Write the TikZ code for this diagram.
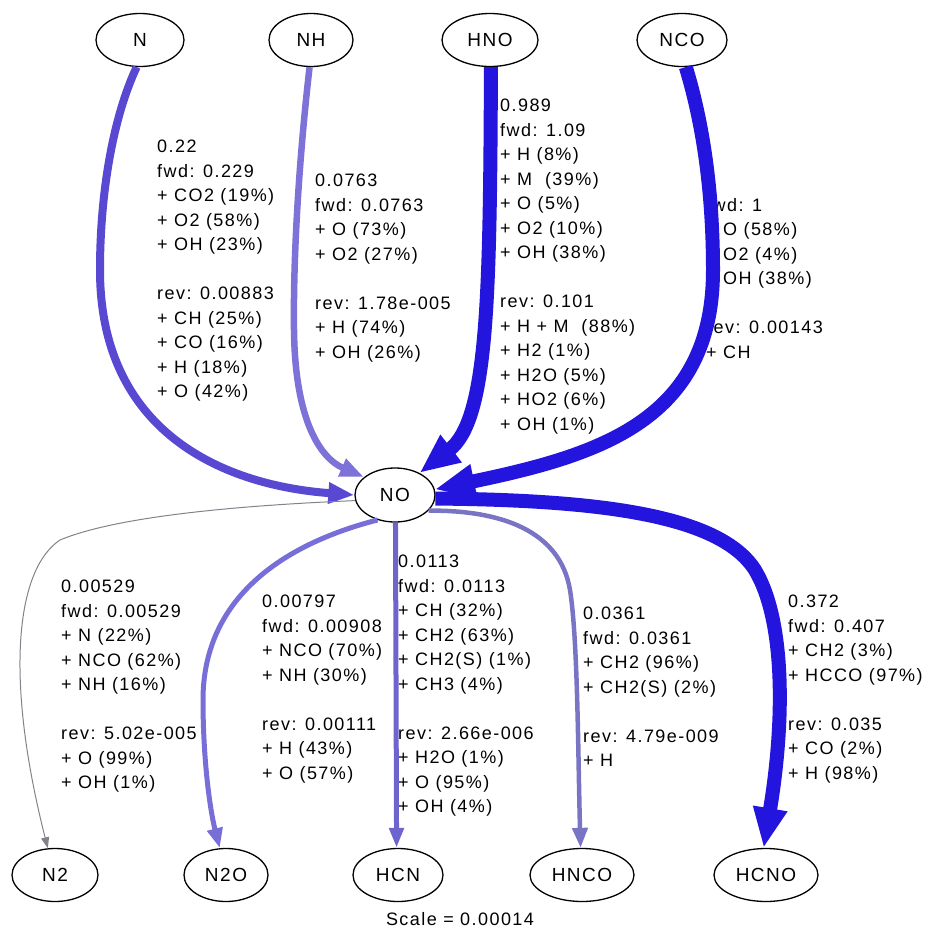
\documentclass[tikz,border=0pt]{standalone}
\usepackage{fontspec}
\setmainfont{Liberation Sans}[LetterSpace=8]
\usetikzlibrary{shapes.geometric,arrows.meta}

\definecolor{fluxA}{RGB}{88,72,210}
\definecolor{fluxB}{RGB}{125,114,216}
\definecolor{fluxC}{RGB}{35,20,222}
\definecolor{fluxD}{RGB}{120,110,215}
\definecolor{fluxE}{RGB}{110,100,205}
\definecolor{fluxF}{RGB}{122,116,196}
\definecolor{fluxThin}{RGB}{130,130,140}

\begin{document}
\begin{tikzpicture}[x=1pt,y=-1pt,
  species/.style={ellipse,draw=black,line width=1.3pt,fill=white,inner sep=0pt,
    minimum height=53pt,font=\fontsize{19}{20}\selectfont},
  flux/.style={anchor=north west,align=left,inner sep=0pt,
    font=\fontsize{18}{24.5}\selectfont},
  edgebase/.style={line cap=butt},
  heavy/.style={edgebase,line width=14pt,color=fluxC,
    -{Triangle[length=40pt,width=32pt]}},
]
\useasboundingbox (0,0) rectangle (937,934);

% reaction labels (drawn first so edges lie over them)
\node[flux] (labN) at (157,140) {0.22\\fwd: 0.229\\+ CO2 (19\%)\\+ O2 (58\%)\\+ OH (23\%)\\[24.5pt]rev: 0.00883\\+ CH (25\%)\\+ CO (16\%)\\+ H (18\%)\\+ O (42\%)};
\node[flux] (labNH) at (315,174) {0.0763\\fwd: 0.0763\\+ O (73\%)\\+ O2 (27\%)\\[24.5pt]rev: 1.78e-005\\+ H (74\%)\\+ OH (26\%)};
\node[flux] (labHNO) at (500,99) {0.989\\fwd: 1.09\\+ H (8\%)\\+ M~ (39\%)\\+ O (5\%)\\+ O2 (10\%)\\+ OH (38\%)\\[24.5pt]rev: 0.101\\+ H + M~ (88\%)\\+ H2 (1\%)\\+ H2O (5\%)\\+ HO2 (6\%)\\+ OH (1\%)};
\node[flux] (labNCO) at (706,174) {1\\fwd: 1\\+ O (58\%)\\+ O2 (4\%)\\+ OH (38\%)\\[24.5pt]rev: 0.00143\\+ CH};
\node[flux] (labN2) at (61,580) {0.00529\\fwd: 0.00529\\+ N (22\%)\\+ NCO (62\%)\\+ NH (16\%)\\[24.5pt]rev: 5.02e-005\\+ O (99\%)\\+ OH (1\%)};
\node[flux] (labN2O) at (262,595) {0.00797\\fwd: 0.00908\\+ NCO (70\%)\\+ NH (30\%)\\[24.5pt]rev: 0.00111\\+ H (43\%)\\+ O (57\%)};
\node[flux] (labHCN) at (398,555) {0.0113\\fwd: 0.0113\\+ CH (32\%)\\+ CH2 (63\%)\\+ CH2(S) (1\%)\\+ CH3 (4\%)\\[24.5pt]rev: 2.66e-006\\+ H2O (1\%)\\+ O (95\%)\\+ OH (4\%)};
\node[flux] (labHNCO) at (583,607) {0.0361\\fwd: 0.0361\\+ CH2 (96\%)\\+ CH2(S) (2\%)\\[24.5pt]rev: 4.79e-009\\+ H};
\node[flux] (labHCNO) at (788,595) {0.372\\fwd: 0.407\\+ CH2 (3\%)\\+ HCCO (97\%)\\[24.5pt]rev: 0.035\\+ CO (2\%)\\+ H (98\%)};

% species
\node[species,minimum width=88pt] (N) at (140,40) {N};
\node[species,minimum width=84pt] (NH) at (311,40) {NH};
\node[species,minimum width=96pt] (HNO) at (490,40) {HNO};
\node[species,minimum width=90pt] (NCO) at (682,40) {NCO};
\node[species,minimum width=80pt,minimum height=54pt] (NO) at (395,495) {NO};
\node[species,minimum width=86pt] (N2) at (55,875) {N2};
\node[species,minimum width=84pt] (N2O) at (226,875) {N2O};
\node[species,minimum width=90pt] (HCN) at (398,875) {HCN};
\node[species,minimum width=104pt] (HNCO) at (582,875) {HNCO};
\node[species,minimum width=104pt] (HCNO) at (766,875) {HCNO};

% fluxes into NO
\draw[edgebase,line width=8pt,color=fluxA,-{Triangle[length=26pt,width=20pt]}]
  (N.263) .. controls (114,115) and (100,190) .. (100,270)
  .. controls (100,430) and (220,485) .. (NO.180);
\draw[edgebase,line width=6.5pt,color=fluxB,-{Triangle[length=24pt,width=18pt]}]
  (NH.267) .. controls (300,150) and (293,250) .. (294,330)
  .. controls (295,420) and (320,458) .. (NO.150);
\draw[heavy] (HNO.272) .. controls (490,300) and (488,420) .. (NO.42);
\draw[heavy] (NCO.278) .. controls (705,130) and (713,200) .. (713,270)
  .. controls (713,420) and (600,455) .. (NO.8);

% fluxes out of NO
\draw[edgebase,line width=1pt,color=fluxThin,-{Triangle[length=11pt,width=8pt]}]
  (NO.188) .. controls (250,505) and (120,515) .. (60,540)
  .. controls (15,570) and (5,680) .. (N2.105);
\draw[edgebase,line width=5pt,color=fluxD,-{Triangle[length=20pt,width=15pt]}]
  (NO.235) .. controls (280,545) and (203,600) .. (203,700)
  .. controls (203,760) and (210,810) .. (N2O.103);
\draw[edgebase,line width=5pt,color=fluxE,-{Triangle[length=20pt,width=14pt]}]
  (NO.271) -- (HCN.93);
\draw[edgebase,line width=4.5pt,color=fluxF,-{Triangle[length=20pt,width=15pt]}]
  (NO.335) .. controls (500,510) and (560,530) .. (570,590)
  .. controls (578,640) and (578,760) .. (HNCO.93);
\draw[heavy] (NO.355) .. controls (600,500) and (720,515) .. (755,570)
  .. controls (785,620) and (785,720) .. (HCNO.95);

\node[font=\fontsize{18}{20}\selectfont,anchor=base] (scale) at (460,925) {Scale = 0.00014};
\end{tikzpicture}
\end{document}
